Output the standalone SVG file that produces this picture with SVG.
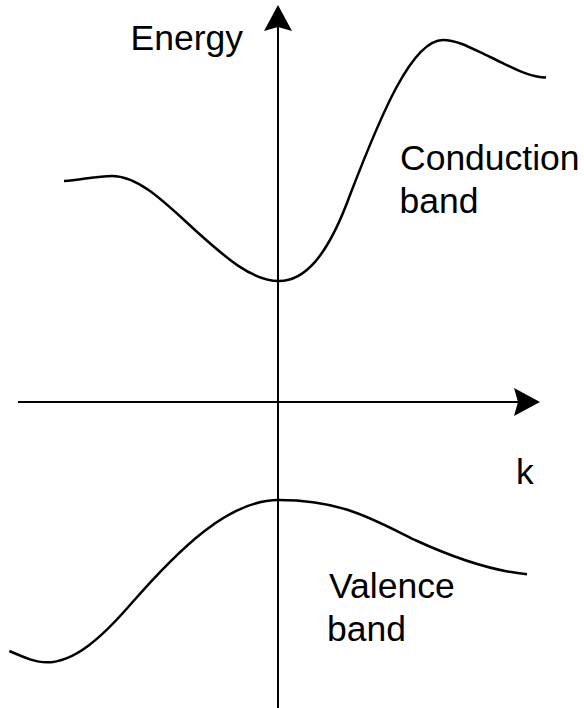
<svg xmlns="http://www.w3.org/2000/svg" width="584" height="708" viewBox="0 0 584 708">
<style>
.axis{stroke:#000;stroke-width:2;fill:none}
.band{stroke:#000;stroke-width:2.5;fill:none;stroke-linecap:butt}
.lbl{font-family:"Liberation Sans",Arial,Helvetica,sans-serif;font-size:35.5px;fill:#000}
</style>
<defs>
<marker id="arrow" markerUnits="userSpaceOnUse" viewBox="0 -15 30 30" markerWidth="30" markerHeight="30" refX="4" refY="0" orient="auto" overflow="visible">
<path d="M0,-14 L26,0 L0,14 L4,0 Z" fill="#000"/>
</marker>
</defs>
<rect width="584" height="708" fill="#fff"/>
<g id="connectors">
<line id="energy-axis" class="axis" x1="278" y1="708" x2="278" y2="27" marker-end="url(#arrow)"/>
<line id="k-axis" class="axis" x1="18" y1="402" x2="518" y2="402" marker-end="url(#arrow)"/>
</g>
<g id="conduction-band">
<path class="band" d="M64,181 C80,180.2 96,176 112,176 C139.7,176 167.3,205.1 195,230 C223,255.2 251,281 279,281 C304,281 327,258 350,195 C381,114.4 412,40 443,40 C458.7,40 474.3,49.9 490,57 C508.7,65.4 527.3,77.1 546,77.5"/>
</g>
<g id="valence-band">
<path class="band" d="M9.3,651 C21.8,656.3 34.2,662.3 46.7,662.3 C74.5,662.3 102.2,637 130,605 C179.5,548.1 229,500 278.6,500 C342,500 372,519 415,540 C452.3,557.2 489.7,570.6 527,574.3"/>
</g>
<g id="label-energy"><text class="lbl" x="130.5" y="49.5">Energy</text></g>
<g id="label-k"><text class="lbl" x="516" y="484">k</text></g>
<g id="label-conduction"><text class="lbl" x="400" y="169.5">Conduction</text><text class="lbl" x="399.5" y="213">band</text></g>
<g id="label-valence"><text class="lbl" x="329" y="598">Valence</text><text class="lbl" x="327" y="641">band</text></g>
</svg>
